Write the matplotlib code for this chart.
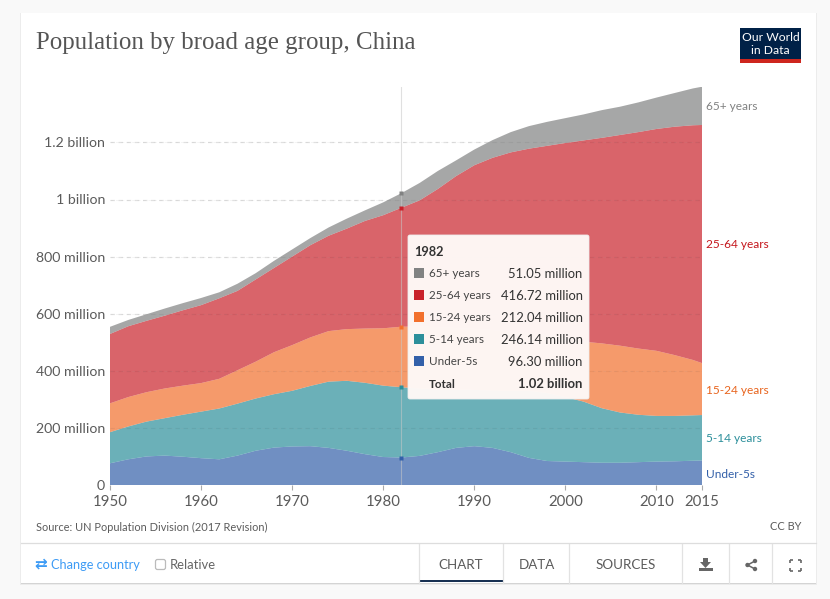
import numpy as np
import matplotlib
matplotlib.use('Agg')
import matplotlib.pyplot as plt
from matplotlib.patches import Rectangle, FancyBboxPatch, Polygon, Circle

plt.rcParams['font.family'] = ['Lato', 'DejaVu Sans']

# values in millions
years = [1950, 1952, 1954, 1956, 1958, 1960, 1962, 1964, 1966, 1968, 1970, 1972,
         1974, 1976, 1978, 1980, 1982, 1984, 1986, 1988, 1990, 1992, 1994, 1996,
         1998, 2000, 2002, 2004, 2006, 2008, 2010, 2012, 2014, 2015]
under5 = [76, 90, 100, 103, 99, 94, 90, 103, 120, 131, 135, 136,
          130, 120, 108, 98, 96.30, 102, 115, 130, 136, 130, 115, 95,
          84, 82, 80, 78, 78, 80, 82, 83, 85, 86]
age5_14 = [109, 115, 122, 131, 147, 163, 178, 182, 183, 187, 195, 211,
           232, 245, 250, 250, 246.14, 236, 220, 204, 197, 201, 215, 235,
           238, 226, 212, 191, 176, 166, 160, 159, 159, 159]
age15_24 = [101, 103, 103, 104, 102, 100, 104, 117, 129, 147, 160, 170,
            177, 181, 190, 201, 212.04, 217, 218, 216, 214, 212, 208, 202,
            203, 202, 210, 227, 234, 232, 228, 213, 194, 182]
age25_64 = [243, 248, 250, 255, 264, 273, 282, 278, 288, 295, 310, 323,
            334, 352, 377, 396, 416.72, 442, 484, 532, 573, 603, 627, 646,
            663, 688, 705, 720, 738, 758, 777, 800, 822, 834]
age65 = [25, 22, 23, 25, 25, 25, 21, 25, 22, 25, 25, 25,
         29, 35, 37, 45, 51.05, 61, 63, 55, 55, 62, 71, 79,
         84, 87, 91, 97, 99, 104, 110, 118, 129, 134]

series_names = ['Under-5s', '5-14 years', '15-24 years', '25-64 years', '65+ years']
series_colors = ['#3360a9', '#2c8f9b', '#f2702d', '#c9222b', '#818282']
label_colors = ['#3360a9', '#2c8f9b', '#e8641d', '#c4161c', '#818282']
label_ypos = [474, 438.5, 390, 244.5, 106]

yticks = [0, 200, 400, 600, 800, 1000, 1200]
ytick_labels = ['0', '200 million', '400 million', '600 million', '800 million', '1 billion', '1.2 billion']
xticks = [1950, 1960, 1970, 1980, 1990, 2000, 2010, 2015]

hover_year = 1982
tooltip_rows = [('65+ years', '51.05 million', '#818282'),
                ('25-64 years', '416.72 million', '#c9222b'),
                ('15-24 years', '212.04 million', '#f2702d'),
                ('5-14 years', '246.14 million', '#2c8f9b'),
                ('Under-5s', '96.30 million', '#3360a9')]

W, H = 830, 599
fig = plt.figure(figsize=(W / 100, H / 100), dpi=100, facecolor='#f9f9f9')


def px_axes(x0, y0, x1, y1, z):
    return fig.add_axes([x0 / W, 1 - y1 / H, (x1 - x0) / W, (y1 - y0) / H], zorder=z)


# card behind everything
bg = px_axes(0, 0, W, H, 0)
bg.set_xlim(0, W)
bg.set_ylim(H, 0)
bg.axis('off')
bg.add_patch(Rectangle((20, 13), 797, 572, fc='#ececec', ec='none'))
bg.add_patch(Rectangle((21, 14), 795, 570, fc='#d4d4d4', ec='none'))
bg.add_patch(Rectangle((21, 13), 795, 570, fc='white', ec='none'))

# the chart
ax = px_axes(110, 87, 702, 485, 1)
ax.patch.set_alpha(0)
ax.stackplot(years, under5, age5_14, age15_24, age25_64, age65,
             colors=series_colors, alpha=0.7, linewidth=0, zorder=2)
ax.set_xlim(1950, 2015)
ax.set_ylim(0, 398 / 0.2855)
for v in yticks[1:]:
    ax.axhline(v, color='#e0e0e0', lw=0.9, ls=(0, (3.5, 3)), zorder=1)
    ax.axhline(v, color='#999999', lw=0.6, ls=(0, (3.5, 3)), alpha=0.12, zorder=3)
ax.set_yticks(yticks)
ax.set_yticklabels(ytick_labels, fontsize=10.2, color='#5b5b5b')
ax.set_xticks(xticks)
ax.set_xticklabels([str(x) for x in xticks], fontsize=10.8, color='#5b5b5b')
ax.tick_params(axis='y', length=0, pad=3.5)
ax.tick_params(axis='x', length=3.5, width=0.8, color='#aaaaaa', pad=3.5)
for s in ax.spines.values():
    s.set_visible(False)

# hover line and dots
ax.axvline(hover_year, color='#c8c8c8', lw=0.8, alpha=0.55, zorder=4)
i = years.index(hover_year)
cum = np.cumsum([under5, age5_14, age15_24, age25_64, age65], axis=0)
for k in range(5):
    ax.plot([hover_year], [cum[k][i]], 's', ms=2.6, color=series_colors[k], mec='none', zorder=5, clip_on=False)

# everything in pixel coords on top
ov = px_axes(0, 0, W, H, 2)
ov.set_xlim(0, W)
ov.set_ylim(H, 0)
ov.axis('off')
ov.patch.set_alpha(0)

ov.text(36, 43.5, 'Population by broad age group, China', family='Liberation Serif',
        fontsize=17.9, color='#555555', va='center', ha='left')

# logo
ov.add_patch(Rectangle((740, 28), 61, 35, fc='#002147', ec='none'))
ov.add_patch(Rectangle((740, 59), 61, 4, fc='#ce261e', ec='none'))
ov.text(770.5, 37.5, 'Our World', color='white', fontsize=8.7, ha='center', va='center')
ov.text(770.5, 50.5, 'in Data', color='white', fontsize=8.7, ha='center', va='center')

# end labels
for name, c, y in zip(series_names, label_colors, label_ypos):
    ov.text(706, y, name, color=c, fontsize=8.6, va='center', ha='left')

# tooltip
ov.add_patch(FancyBboxPatch((408, 235), 181, 164, boxstyle='round,pad=0,rounding_size=2',
                            fc='#fef8f6', ec='#eeeeee', lw=0.6, alpha=0.98))
ov.text(414, 251.5, str(hover_year), fontsize=9.2, fontweight='bold', color='#333333', va='center')
for n, (name, val, c) in enumerate(tooltip_rows):
    y = 273 + n * 22
    ov.add_patch(Rectangle((414, y - 5), 10, 10, fc=c, ec='none'))
    ov.text(428.5, y + 0.7, name, fontsize=8.4, color='#444444', va='center')
    ov.text(582.5, y + 0.7, val, fontsize=9.4, color='#333333', va='center', ha='right')
ov.text(428.5, 384, 'Total', fontsize=8.4, fontweight='bold', color='#333333', va='center')
ov.text(582.5, 384, '1.02 billion', fontsize=9.4, fontweight='bold', color='#333333', va='center', ha='right')

# footer
ov.text(36, 527, 'Source: UN Population Division (2017 Revision)', fontsize=7.9, color='#5b5b5b', va='center')
ov.text(801, 527, 'CC BY', fontsize=7.9, color='#5b5b5b', va='center', ha='right')

# control bar
ov.plot([21, 816], [543, 543], color='#dddddd', lw=0.9)
for x in [419, 503, 569, 682, 729, 772]:
    ov.plot([x, x], [543.5, 583], color='#e2e2e2', lw=0.9)
ov.add_patch(Rectangle((420, 580), 83, 2, fc='#183153', ec='none'))
ov.text(461, 565, 'CHART', fontsize=9.6, color='#5b5b5b', ha='center', va='center')
ov.text(536.5, 565, 'DATA', fontsize=9.6, color='#5b5b5b', ha='center', va='center')
ov.text(626, 565, 'SOURCES', fontsize=9.6, color='#5b5b5b', ha='center', va='center')

ov.text(41, 563.5, '\u21c4', family='DejaVu Sans', fontsize=11, fontweight='bold',
        color='#3d9bf5', ha='center', va='center')
ov.text(51, 565, 'Change country', fontsize=9.2, color='#3d9bf5', va='center')
ov.add_patch(FancyBboxPatch((155.5, 559.5), 10, 10, boxstyle='round,pad=0,rounding_size=2',
                            fc='white', ec='#bbbbbb', lw=0.9))
ov.text(169.5, 565, 'Relative', fontsize=9.4, color='#666666', va='center')

# download icon
icon = '#666666'
ov.add_patch(Polygon([[703, 558], [708, 558], [708, 562], [711, 562], [705.5, 568], [700, 562], [703, 562]], fc=icon, ec='none'))
ov.add_patch(Rectangle((699, 568), 13.5, 3, fc=icon, ec='none'))
# share icon
ov.plot([755, 747.5, 755], [561, 565, 569], color=icon, lw=1.1)
for cx, cy in [(755, 561), (747.5, 565), (755, 569)]:
    ov.add_patch(Circle((cx, cy), 2.2, fc=icon, ec='none'))
# expand icon
for dx, dy in [(-1, -1), (1, -1), (-1, 1), (1, 1)]:
    cx, cy = 795.5 + dx * 5.5, 565 + dy * 5.5
    ov.plot([cx, cx - dx * 3], [cy, cy], color=icon, lw=1.2, solid_capstyle='butt')
    ov.plot([cx, cx], [cy, cy - dy * 3], color=icon, lw=1.2, solid_capstyle='butt')

fig.savefig('out.png', dpi=100, facecolor=fig.get_facecolor())
